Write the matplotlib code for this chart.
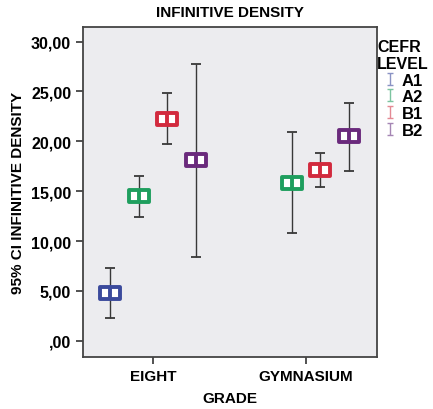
import matplotlib

matplotlib.use("Agg")
import matplotlib.pyplot as plt  # noqa: E402
import numpy as np  # noqa: E402
from matplotlib.lines import Line2D  # noqa: E402
from matplotlib.path import Path  # noqa: E402

plt.rcParams["font.family"] = ["Liberation Sans", "DejaVu Sans"]
plt.rcParams["font.weight"] = "bold"

grades = ["EIGHT", "GYMNASIUM"]
levels = ["A1", "A2", "B1", "B2"]
colors = ["#3B4A9C", "#1E9E5E", "#D22A3E", "#6A2A7C"]
legend_colors = ["#8A93C4", "#7CC4A0", "#E48A94", "#A586B4"]

# media y límites del IC 95% por nivel (None = sin datos)
mean_a1 = [4.8, None]
low_a1 = [2.3, None]
high_a1 = [7.3, None]
mean_a2 = [14.5, 15.8]
low_a2 = [12.4, 10.8]
high_a2 = [16.5, 20.9]
mean_b1 = [22.2, 17.1]
low_b1 = [19.7, 15.4]
high_b1 = [24.8, 18.8]
mean_b2 = [18.1, 20.5]
low_b2 = [8.4, 17.0]
high_b2 = [27.8, 23.8]

means = [mean_a1, mean_a2, mean_b1, mean_b2]
lows = [low_a1, low_a2, low_b1, low_b2]
highs = [high_a1, high_a2, high_b1, high_b2]

# marcador tipo SPSS: rectángulo con división central
box = Path(
    [(-1, -0.6), (1, -0.6), (1, 0.6), (-1, 0.6), (-1, -0.6), (0, -0.6), (0, 0.6)],
    [Path.MOVETO, Path.LINETO, Path.LINETO, Path.LINETO, Path.CLOSEPOLY,
     Path.MOVETO, Path.LINETO],
)
ibar = Path(
    [(-0.45, 1), (0.45, 1), (0, 1), (0, -1), (-0.45, -1), (0.45, -1)],
    [Path.MOVETO, Path.LINETO, Path.MOVETO, Path.LINETO, Path.MOVETO, Path.LINETO],
)

fig = plt.figure(figsize=(4.33, 4.10), dpi=100)
fig.patch.set_facecolor("white")
ax = fig.add_axes([0.1917, 0.1268, 0.679, 0.805])
ax.set_facecolor("#ECECEF")

step = 0.186
x = np.arange(len(grades))
for i, lvl in enumerate(levels):
    off = (i - 1.5) * step
    for g in range(len(grades)):
        m = means[i][g]
        if m is None:
            continue
        xi = x[g] + off
        ax.errorbar(
            [xi], [m],
            yerr=[[m - lows[i][g]], [highs[i][g] - m]],
            fmt="none", ecolor="#383838", elinewidth=1.0, capsize=3.3, capthick=1.3,
            zorder=2,
        )
        ax.plot([xi], [m], marker=box, markersize=14, markerfacecolor="white",
                markeredgecolor=colors[i], markeredgewidth=2.8, linestyle="none",
                zorder=3)

ax.set_xlim(-0.457, 1.464)
ax.set_ylim(-1.63, 31.47)
ax.set_xticks(x)
ax.set_xticklabels(grades, fontsize=11, fontweight="bold")
yt = [0, 5, 10, 15, 20, 25, 30]
ax.set_yticks(yt)
ax.set_yticklabels([",00" if v == 0 else f"{v:.2f}".replace(".", ",") for v in yt],
                   fontsize=11.5, fontweight="bold")
ax.tick_params(axis="both", colors="#333333", labelcolor="black", length=5, width=1.2)
for s in ax.spines.values():
    s.set_color("#444444")
    s.set_linewidth(1.3)

ax.set_title("INFINITIVE DENSITY", fontsize=11, fontweight="bold", pad=8)
ax.set_xlabel("GRADE", fontsize=11, fontweight="bold", labelpad=6)
ax.set_ylabel("95% CI INFINITIVE DENSITY", fontsize=11, fontweight="bold", labelpad=4)

handles = [Line2D([], [], marker=ibar, markersize=9, markeredgewidth=1.0,
                  markeredgecolor=c, color=c, linestyle="none") for c in legend_colors]
leg = ax.legend(handles, levels, title="CEFR\nLEVEL", loc="upper left",
                bbox_to_anchor=(0.978, 0.985), frameon=False, fontsize=12,
                title_fontproperties={"weight": "bold", "size": 11.5},
                handlelength=0.8, handletextpad=0.3, labelspacing=0.1,
                borderaxespad=0.2, borderpad=0.2)
for t in leg.get_texts():
    t.set_fontweight("bold")

fig.savefig("out.png", dpi=100, facecolor="white")
